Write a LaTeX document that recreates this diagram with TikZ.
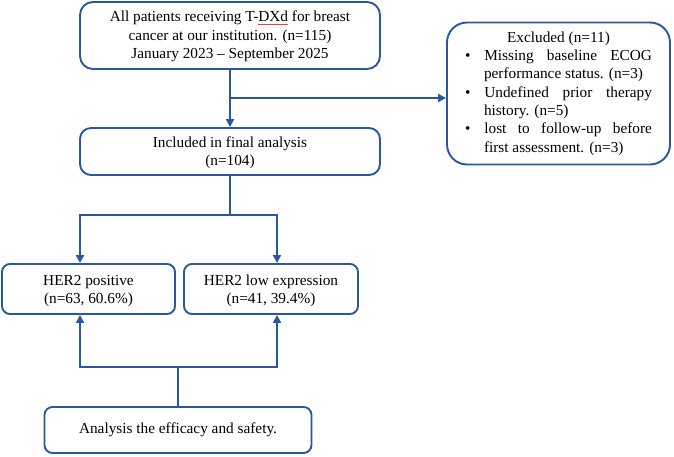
\documentclass[tikz,border=0pt]{standalone}
\usepackage{fontspec}
\setmainfont{Liberation Serif}
\usetikzlibrary{arrows.meta}
\definecolor{flowblue}{RGB}{41,87,164}
\definecolor{spellred}{RGB}{225,70,70}
\newcommand\redul[1]{\setbox0\hbox{#1}\rlap{\color{spellred}\raisebox{-2.6pt}{\rule{\wd0}{0.7pt}}}#1}
\begin{document}
\begin{tikzpicture}[x=1pt,y=-1pt,
  box/.style={draw=flowblue, line width=1.9pt, align=center, inner sep=0pt,
    font=\fontsize{15.3}{18.6}\selectfont},
  conn/.style={draw=flowblue, line width=1.9pt},
  arr/.style={conn, -{Triangle[length=8pt,width=8pt]}}]
\useasboundingbox (0,0) rectangle (674,457);
\node[box, rounded corners=13pt, minimum width=300pt, minimum height=67pt] (top) at (230,35.5)
  {\rule{0pt}{13pt}All patients receiving T-\redul{DXd} for breast\\cancer at our institution. (n=115)\\January 2023 -- September 2025};
\node[box, rounded corners=11pt, minimum width=300pt, minimum height=47pt] (incl) at (230,151.5)
  {\rule{0pt}{13pt}Included in final analysis\\(n=104)};
\node[box, rounded corners=20pt, minimum width=223pt, minimum height=142pt, text width=187pt, align=justify,
  font=\fontsize{15.3}{18.3}\selectfont] (excl) at (558.5,93.5)
  {\centering Excluded (n=11)\par
   \begin{list}{\textbullet}{\setlength\leftmargin{19pt}\setlength\labelwidth{5pt}\setlength\labelsep{14pt}%
     \setlength\itemsep{0pt}\setlength\topsep{0pt}\setlength\parsep{0pt}\setlength\partopsep{0pt}}
   \item Missing baseline ECOG\linebreak performance status. (n=3)
   \item Undefined prior therapy\linebreak history. (n=5)
   \item lost to follow-up before\linebreak first assessment. (n=3)
   \end{list}};
\node[box, rounded corners=8pt, minimum width=173pt, minimum height=50pt] (pos) at (88.5,289)
  {\rule{0pt}{14pt}HER2 positive\\(n=63, 60.6\%)};
\node[box, rounded corners=8pt, minimum width=174pt, minimum height=50pt] (low) at (271,289)
  {\rule{0pt}{14pt}HER2 low expression\\(n=41, 39.4\%)};
\node[box, rounded corners=8pt, minimum width=267pt, minimum height=46pt] (ana) at (178,430)
  {Analysis the efficacy and safety.};
% connectors
\draw[arr] (top.south) -- (incl.north);
\coordinate (br) at (230,98);
\draw[arr] (br) -- (br -| excl.west);
\coordinate (j1) at (230,215);
\draw[conn] (incl.south) -- (j1);
\draw[arr] (j1) -| ([xshift=-8.5pt]pos.north);
\draw[arr] (j1) -| ([xshift=6pt]low.north);
\coordinate (j2) at (178,367);
\draw[conn] (ana.north) -- (j2);
\draw[arr] (j2) -| ([xshift=-8.5pt]pos.south);
\draw[arr] (j2) -| ([xshift=6pt]low.south);
\end{tikzpicture}
\end{document}
